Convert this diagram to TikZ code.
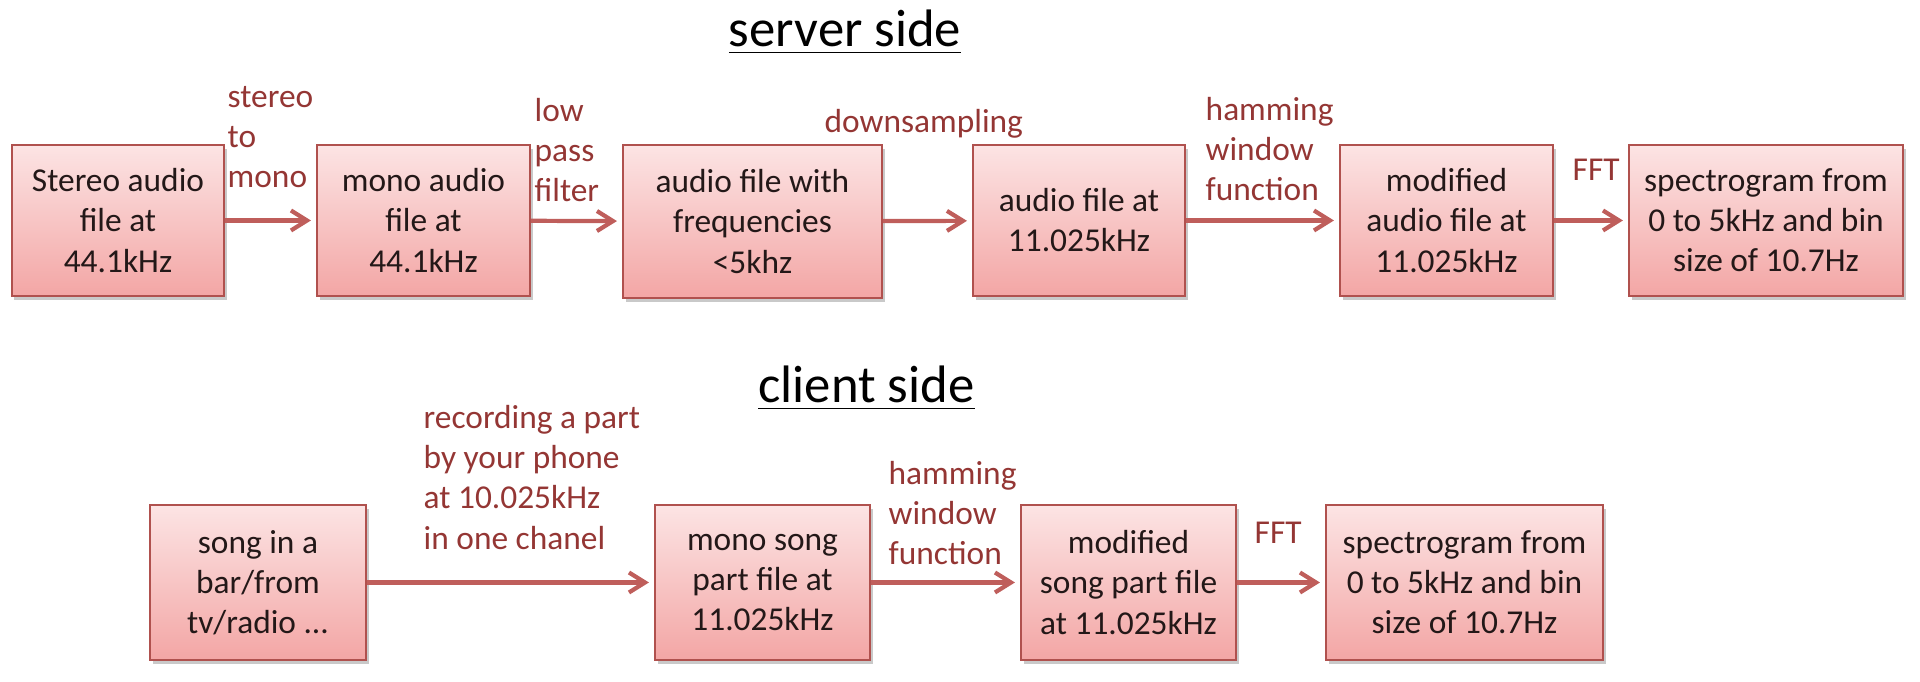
\documentclass[tikz,border=0pt]{standalone}
\usepackage{fontspec}
\setmainfont{Carlito}
\usetikzlibrary{arrows.meta,shadows}
\definecolor{boxtop}{HTML}{FCE4E4}
\definecolor{boxbot}{HTML}{F3A6A5}
\definecolor{boxline}{HTML}{B0514E}
\definecolor{flowred}{HTML}{BF5E5B}
\definecolor{labred}{HTML}{943634}
\definecolor{boxtext}{HTML}{231818}

\begin{document}
\begin{tikzpicture}[
    stage/.style={draw=boxline, line width=0.6pt, top color=boxtop, bottom color=boxbot,
      text=boxtext, align=center, inner sep=0pt,
      font=\fontsize{9.5}{11.4}\selectfont,
      drop shadow={shadow xshift=0.025cm, shadow yshift=-0.04cm, opacity=0.3, fill=black!70}},
    flow/.style={draw=flowred, line width=1.2pt,
      -{Straight Barb[length=0.16cm, width=0.2cm]}, shorten >=0.05cm},
    steplabel/.style={text=labred, align=left, anchor=west, inner sep=0pt,
      font=\fontsize{9.5}{11.4}\selectfont},
    sidetitle/.style={anchor=base, inner sep=0pt, font=\fontsize{15}{18}\selectfont}
  ]
  \useasboundingbox (0,0) rectangle (19.2,6.82);

  % server side
  \node[sidetitle] (srv) at (8.45,6.35) {\underline{server side}};
  \node[stage, minimum width=2.12cm, minimum height=1.51cm] (s1) at (1.18,4.615) {Stereo audio\\file at\\44.1kHz};
  \node[stage, minimum width=2.13cm, minimum height=1.51cm] (s2) at (4.235,4.615) {mono audio\\file at\\44.1kHz};
  \node[stage, minimum width=2.59cm, minimum height=1.53cm] (s3) at (7.525,4.605) {audio file with\\frequencies\\<5khz};
  \node[stage, minimum width=2.12cm, minimum height=1.51cm] (s4) at (10.79,4.615) {audio file at\\11.025kHz};
  \node[stage, minimum width=2.13cm, minimum height=1.51cm] (s5) at (14.465,4.615) {modified\\audio file at\\11.025kHz};
  \node[stage, minimum width=2.74cm, minimum height=1.51cm] (s6) at (17.66,4.615) {spectrogram from\\0 to 5kHz and bin\\size of 10.7Hz};

  \node[steplabel] (l1) at (2.27,5.445) {stereo\\to\\mono};
  \node[steplabel] (l2) at (5.34,5.32) {low\\pass\\filter};
  \node[steplabel] (l3) at (8.24,5.58) {downsampling};
  \node[steplabel] (l4) at (12.05,5.33) {hamming\\window\\function};
  \node[steplabel] (l5) at (15.72,5.12) {FFT};

  % client side
  \node[sidetitle] (cli) at (8.665,2.79) {\underline{client side}};
  \node[stage, minimum width=2.16cm, minimum height=1.55cm] (c1) at (2.58,0.995) {song in a\\bar/from\\tv/radio ...};
  \node[stage, minimum width=2.15cm, minimum height=1.55cm] (c2) at (7.625,0.995) {mono song\\part file at\\11.025kHz};
  \node[stage, minimum width=2.15cm, minimum height=1.55cm] (c3) at (11.285,0.995) {modified\\song part file\\at 11.025kHz};
  \node[stage, minimum width=2.77cm, minimum height=1.55cm] (c4) at (14.645,0.995) {spectrogram from\\0 to 5kHz and bin\\size of 10.7Hz};

  \node[steplabel] (m1) at (4.23,2.045) {recording a part\\by your phone\\at 10.025kHz\\in one chanel};
  \node[steplabel] (m2) at (8.88,1.69) {hamming\\window\\function};
  \node[steplabel] (m3) at (12.54,1.49) {FFT};

  \foreach \a/\b in {s1/s2,s2/s3,s3/s4,s4/s5,s5/s6,c1/c2,c2/c3,c3/c4}
    \draw[flow] (\a) -- (\b);
\end{tikzpicture}
\end{document}
